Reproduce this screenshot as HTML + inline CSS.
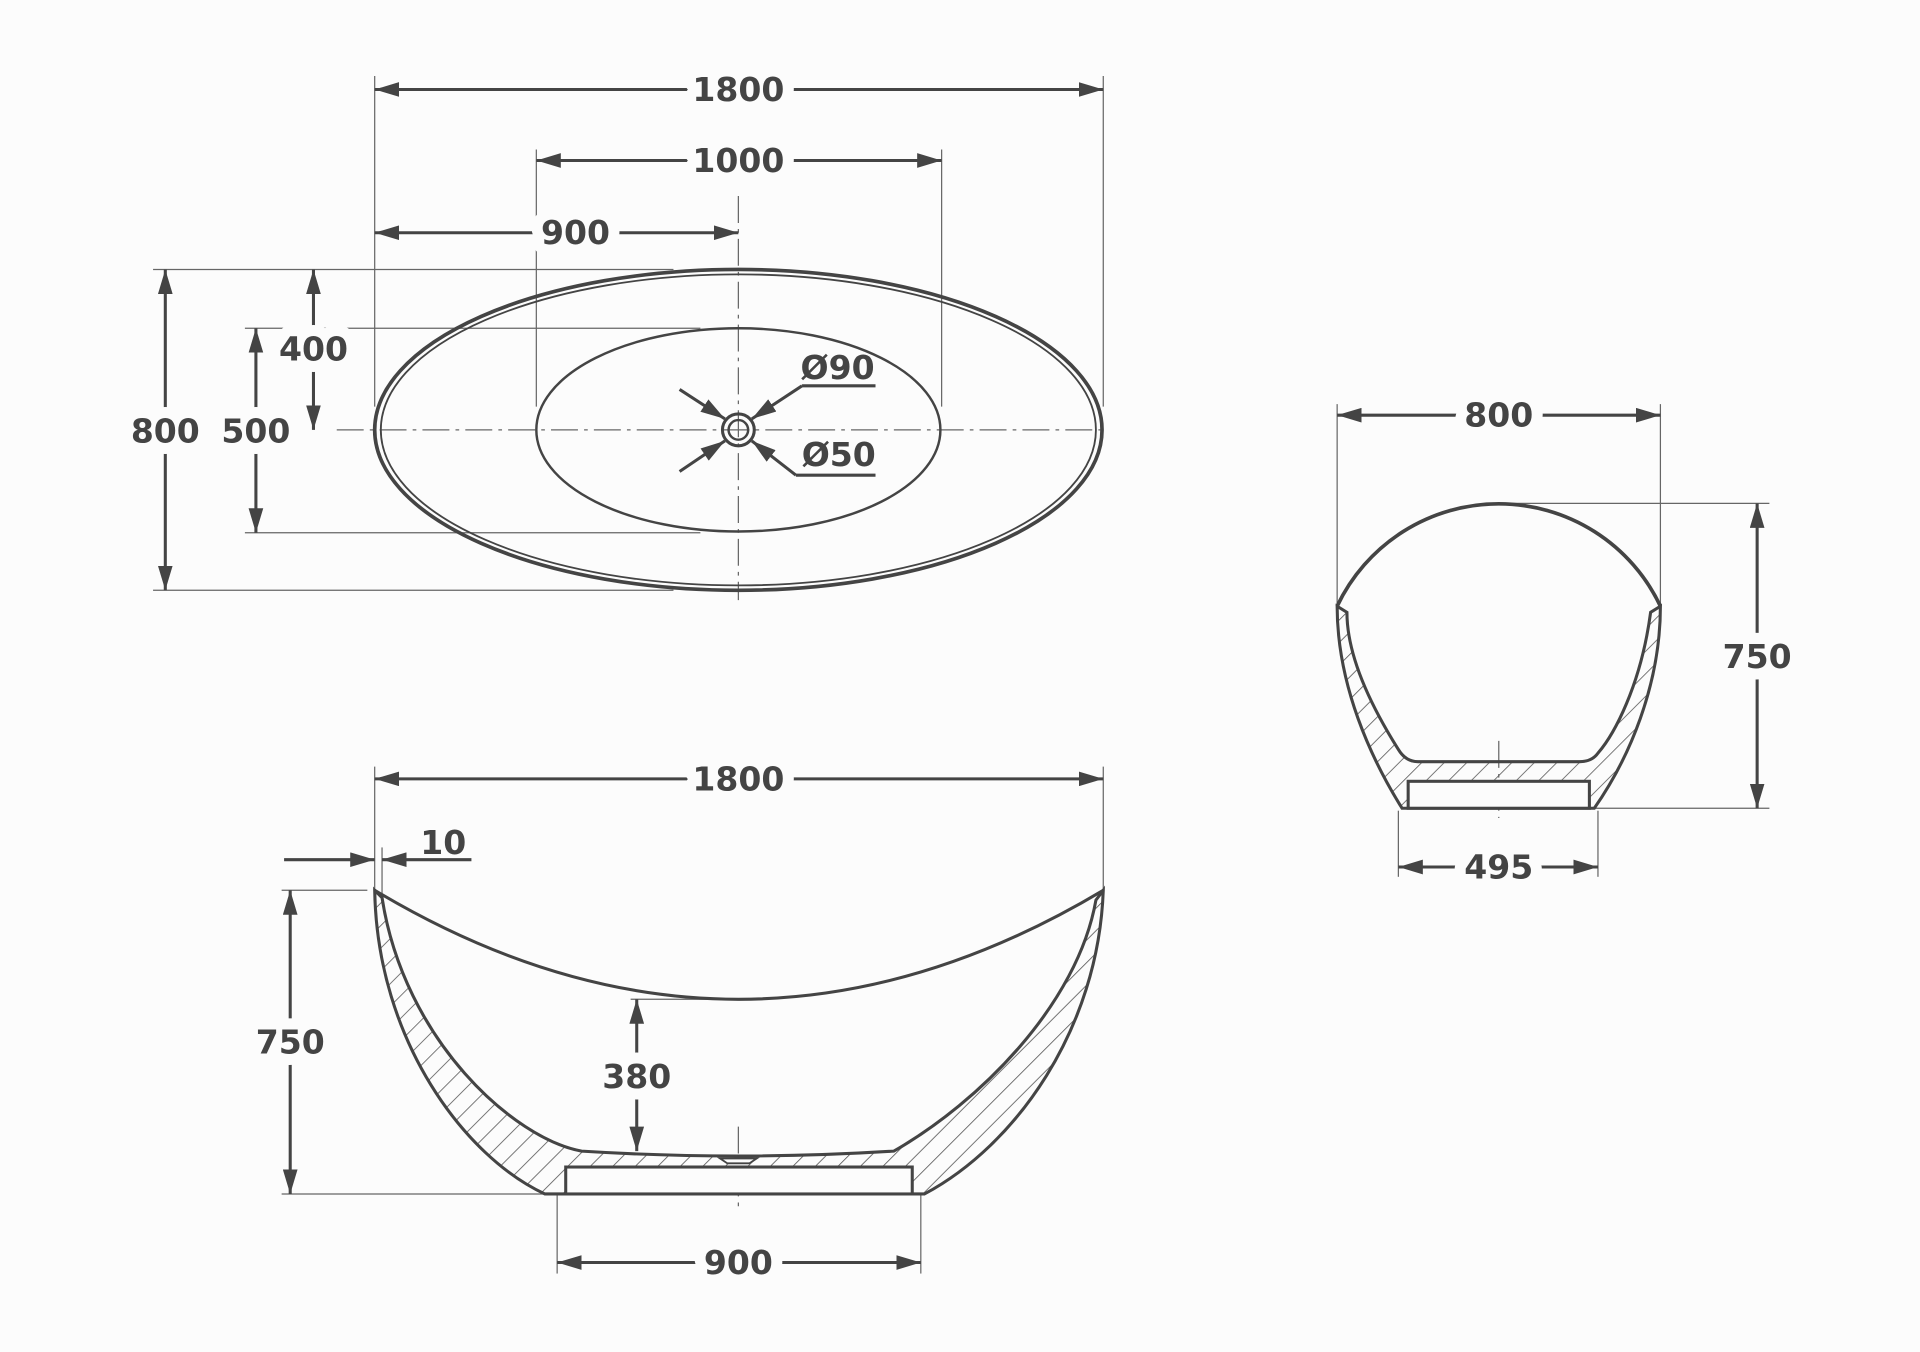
<!DOCTYPE html>
<html><head><meta charset="utf-8"><style>
html,body{margin:0;padding:0;background:#fcfcfc;}
svg{display:block;}
text{font-family:"DejaVu Sans","Liberation Sans",sans-serif;font-weight:bold;font-size:27px;fill:#444;text-anchor:middle;dominant-baseline:central;paint-order:stroke;stroke:#fcfcfc;stroke-width:18px;stroke-linejoin:round;}
</style></head><body>
<svg width="1920" height="1352" viewBox="0 0 1568 1104" xmlns="http://www.w3.org/2000/svg">
<defs>
<marker id="a" viewBox="0 0 20 12" refX="20" refY="6" markerWidth="20" markerHeight="12" markerUnits="userSpaceOnUse" orient="auto-start-reverse"><path d="M0,0 L20,6 L0,12 Z" fill="#444"/></marker>
<pattern id="h" patternUnits="userSpaceOnUse" width="13" height="13" patternTransform="rotate(45)"><line x1="0" y1="0" x2="0" y2="13" stroke="#555" stroke-width="1.3"/></pattern>
</defs>
<rect width="1568" height="1104" fill="#fcfcfc"/>
<g stroke="#666" stroke-width="1" fill="none">
<line x1="306" y1="62" x2="306" y2="332"/><line x1="901" y1="62" x2="901" y2="332"/>
<line x1="438" y1="122" x2="438" y2="332"/><line x1="769" y1="122" x2="769" y2="332"/>
<line x1="125" y1="220" x2="550" y2="220"/><line x1="125" y1="482" x2="550" y2="482"/>
<line x1="200" y1="268" x2="572" y2="268"/><line x1="200" y1="435" x2="572" y2="435"/>
<line x1="306" y1="626" x2="306" y2="730"/><line x1="901" y1="626" x2="901" y2="730"/>
<line x1="312" y1="692" x2="312" y2="730"/>
<line x1="230" y1="727" x2="300" y2="727"/><line x1="230" y1="975" x2="455" y2="975"/>
<line x1="515" y1="816" x2="600" y2="816"/>
<line x1="455" y1="975" x2="455" y2="1040"/><line x1="752" y1="975" x2="752" y2="1040"/>
<line x1="1092" y1="330" x2="1092" y2="495"/><line x1="1356" y1="330" x2="1356" y2="495"/>
<line x1="1224" y1="411" x2="1445" y2="411"/><line x1="1300" y1="660" x2="1445" y2="660"/>
<line x1="1142" y1="662" x2="1142" y2="716"/><line x1="1305" y1="662" x2="1305" y2="716"/>
</g>
<g stroke="#666" stroke-width="1" stroke-dasharray="22,5,3,5" fill="none">
<line x1="603" y1="160" x2="603" y2="490"/><line x1="275" y1="351" x2="900" y2="351"/>
<line x1="603" y1="920" x2="603" y2="988"/><line x1="1224" y1="605" x2="1224" y2="668"/>
</g>
<g fill="none" stroke="#444">
<ellipse cx="603" cy="351" rx="297" ry="131" stroke-width="3"/>
<ellipse cx="603" cy="351" rx="292" ry="127" stroke-width="1.5"/>
<ellipse cx="603" cy="351" rx="165" ry="83" stroke-width="2"/>
<circle cx="603" cy="351" r="13" stroke-width="2.5"/><circle cx="603" cy="351" r="8" stroke-width="2"/>
</g>
<path d="M306,727 C308,850 380,945 445,975 L755,975 C830,935 897,840 901,727 L895,735 C880,820 800,900 730,940 Q603,948 475,940 C420,930 330,850 312,733 Z" fill="url(#h)" stroke="#444" stroke-width="2.5"/>
<path d="M306,727 Q603,905 901,727" fill="none" stroke="#444" stroke-width="2.5"/>
<rect x="462" y="953" width="283" height="22" fill="#fcfcfc" stroke="#444" stroke-width="2.5"/>
<path d="M588,946 L618,946 L612,950 L594,950 Z" fill="#fcfcfc" stroke="#444" stroke-width="1.5"/>
<path d="M1092,495 C1092,560 1120,620 1145,660 L1302,660 C1330,620 1356,560 1356,495 L1348,500 C1340,560 1318,600 1305,615 Q1300,622 1290,622 L1158,622 Q1148,622 1142,612 C1125,585 1100,540 1100,500 Z" fill="url(#h)" stroke="#444" stroke-width="2.5"/>
<path d="M1092,495 A146,146 0 0 1 1356,495" fill="none" stroke="#444" stroke-width="3"/>
<rect x="1150" y="638" width="148" height="22" fill="#fcfcfc" stroke="#444" stroke-width="2.5"/>
<g stroke="#444" stroke-width="2.5" fill="none" marker-start="url(#a)" marker-end="url(#a)">
<line x1="306" y1="73" x2="901" y2="73"/>
<line x1="438" y1="131" x2="769" y2="131"/>
<line x1="135" y1="220" x2="135" y2="482"/>
<line x1="209" y1="268" x2="209" y2="435"/>
<line x1="306" y1="636" x2="901" y2="636"/>
<line x1="237" y1="727" x2="237" y2="975"/>
<line x1="520" y1="816" x2="520" y2="940"/>
<line x1="455" y1="1031" x2="752" y2="1031"/>
<line x1="1092" y1="339" x2="1356" y2="339"/>
<line x1="1435" y1="411" x2="1435" y2="660"/>
<line x1="1142" y1="708" x2="1305" y2="708"/>
</g>
<g stroke="#444" stroke-width="2.5" fill="none" marker-end="url(#a)">
<line x1="500" y1="190" x2="306" y2="190"/><line x1="500" y1="190" x2="603" y2="190"/>
<line x1="256" y1="290" x2="256" y2="220"/><line x1="256" y1="290" x2="256" y2="351"/>
<line x1="232" y1="702" x2="306" y2="702"/><line x1="385" y1="702" x2="312" y2="702"/>
<line x1="555" y1="318" x2="592" y2="342"/><line x1="655" y1="315" x2="614" y2="342"/>
<line x1="555" y1="385" x2="592" y2="360"/><line x1="650" y1="388" x2="614" y2="360"/>
</g>
<g stroke="#444" stroke-width="2.5"><line x1="655" y1="315" x2="715" y2="315"/><line x1="650" y1="388" x2="715" y2="388"/></g>
<text x="603" y="73">1800</text>
<text x="603" y="131">1000</text>
<text x="470" y="190">900</text>
<text x="256" y="285">400</text>
<text x="135" y="352">800</text>
<text x="209" y="352">500</text>
<text x="684" y="300" style="stroke:none">Ø90</text>
<text x="685" y="371" style="stroke:none">Ø50</text>
<text x="603" y="636">1800</text>
<text x="362" y="688" style="stroke:none">10</text>
<text x="237" y="851">750</text>
<text x="520" y="879">380</text>
<text x="603" y="1031">900</text>
<text x="1224" y="339">800</text>
<text x="1435" y="536">750</text>
<text x="1224" y="708">495</text>
</svg>
</body></html>
